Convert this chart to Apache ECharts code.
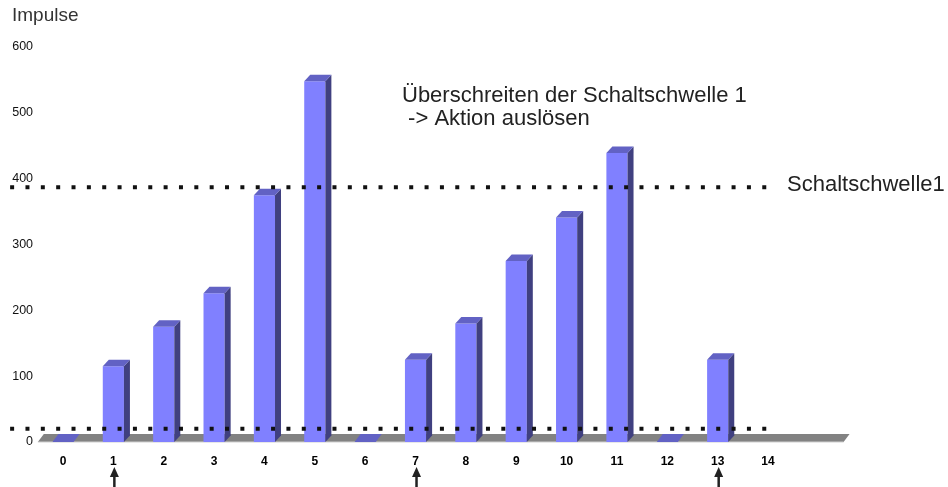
<!DOCTYPE html>
<html>
<head>
<meta charset="utf-8">
<script src="https://cdn.jsdelivr.net/npm/echarts@6/dist/echarts.min.js"></script>
<style>
  html, body { margin: 0; padding: 0; background: #fff; }
  #chart { width: 948px; height: 487px; }
</style>
</head>
<body>
<div id="chart"></div>
<script>
// data
const categories = ['0', '1', '2', '3', '4', '5', '6', '7', '8', '9', '10', '11', '12', '13', '14'];
const impulse = [0, 115, 175, 226, 375, 548, 0, 125, 180, 275, 341, 439, 0, 125, null];
const yTicks = [0, 100, 200, 300, 400, 500, 600];
const thresholds = [387, 20];   // Schaltschwelle1 and the lower dotted line
const triggers = [1, 7, 13];    // categories marked with an arrow

const chart = echarts.init(document.getElementById('chart'));

const DX = 6, DY = 6.5;         // depth of the 3d bars
const FRONT = '#8080ff', SIDE = '#404080', TOP = '#6262c4';
const FONT = '"Liberation Sans", Arial, sans-serif';

const barData = [];
impulse.forEach((v, i) => { if (v !== null) barData.push([i, v]); });

function renderBar(params, api) {
  const x = api.value(0), v = api.value(1);
  const base = api.coord([x, 0]);
  const top = api.coord([x, v]);
  const w = api.size([1, 0])[0] * 0.42;
  const x0 = base[0] - w / 2, x1 = base[0] + w / 2;
  if (v === 0) {
    return {
      type: 'polygon',
      shape: { points: [[x0, base[1]], [x1, base[1]], [x1 + DX, base[1] - 8], [x0 + DX, base[1] - 8]] },
      style: { fill: TOP }
    };
  }
  return {
    type: 'group',
    children: [
      { type: 'rect', shape: { x: x0, y: top[1], width: w, height: base[1] - top[1] }, style: { fill: FRONT } },
      {
        type: 'polygon',
        shape: { points: [[x1, top[1]], [x1 + DX, top[1] - DY], [x1 + DX, base[1] - DY], [x1, base[1]]] },
        style: { fill: SIDE }
      },
      {
        type: 'polygon',
        shape: { points: [[x0, top[1]], [x1, top[1]], [x1 + DX, top[1] - DY], [x0 + DX, top[1] - DY]] },
        style: { fill: TOP }
      }
    ]
  };
}

function renderFloor(params, api) {
  const a = api.coord([api.value(0), 0]);
  const b = api.coord([api.value(1), 0]);
  return {
    type: 'group',
    children: [
      {
        type: 'polygon',
        shape: { points: [[a[0], a[1]], [b[0], b[1]], [b[0] + DX, b[1] - 8], [a[0] + DX, a[1] - 8]] },
        style: { fill: '#828282' }
      },
      {
        type: 'line',
        shape: { x1: a[0], y1: a[1], x2: b[0], y2: b[1] },
        style: { stroke: '#cfcfcf', lineWidth: 1.2 }
      }
    ]
  };
}

function renderArrow(params, api) {
  const p = api.coord([api.value(0), 0]);
  const x = p[0] + 1, yTop = p[1] + 25;
  return {
    type: 'group',
    children: [
      { type: 'polygon', shape: { points: [[x, yTop], [x + 4.5, yTop + 10], [x - 4.5, yTop + 10]] }, style: { fill: '#222' } },
      { type: 'rect', shape: { x: x - 1.25, y: yTop + 6, width: 2.5, height: 30 }, style: { fill: '#222' } }
    ]
  };
}

const option = {
  animation: false,
  grid: { left: 12.64, right: 79.24, top: 47, bottom: 45 },
  xAxis: {
    type: 'value',
    min: -1,
    max: 16,
    interval: 1,
    axisLine: { show: false },
    axisTick: { show: false },
    splitLine: { show: false },
    axisLabel: {
      margin: 14,
      fontFamily: FONT,
      fontSize: 12,
      fontWeight: 'bold',
      color: '#000',
      formatter: v => (categories[v] !== undefined ? categories[v] : '')
    }
  },
  yAxis: {
    type: 'value',
    min: yTicks[0],
    max: yTicks[yTicks.length - 1],
    interval: 100,
    offset: -20.4,
    axisLine: { show: false },
    axisTick: { show: false },
    splitLine: { show: false },
    axisLabel: {
      margin: 0,
      fontFamily: FONT,
      fontSize: 12.5,
      color: '#111'
    }
  },
  graphic: [
    {
      type: 'text', left: 12, top: 6,
      style: { text: 'Impulse', font: '19px ' + FONT, fill: '#333' }
    },
    {
      type: 'text', left: 402, top: 85,
      style: { text: 'Überschreiten der Schaltschwelle 1', font: '22px ' + FONT, fill: '#222' }
    },
    {
      type: 'text', left: 402, top: 108,
      style: { text: ' -> Aktion auslösen', font: '22px ' + FONT, fill: '#222' }
    },
    {
      type: 'text', left: 787, top: 174,
      style: { text: 'Schaltschwelle1', font: '22px ' + FONT, fill: '#222' }
    }
  ],
  series: [
    {
      type: 'custom',
      renderItem: renderFloor,
      data: [[-0.5, categories.length + 0.5]],
      z: 1,
      silent: true
    },
    {
      type: 'custom',
      renderItem: renderBar,
      data: barData,
      z: 2
    },
    {
      type: 'custom',
      renderItem: renderArrow,
      data: triggers.map(t => [t, 0]),
      clip: false,
      z: 3
    }
  ].concat(thresholds.map(t => ({
    type: 'line',
    data: [[-1.05, t], [13.97, t]],
    showSymbol: false,
    clip: false,
    silent: true,
    z: 4,
    lineStyle: { color: '#111', width: 4, type: [4, 11.35], cap: 'butt' }
  })))
};

chart.setOption(option);
</script>
</body>
</html>
